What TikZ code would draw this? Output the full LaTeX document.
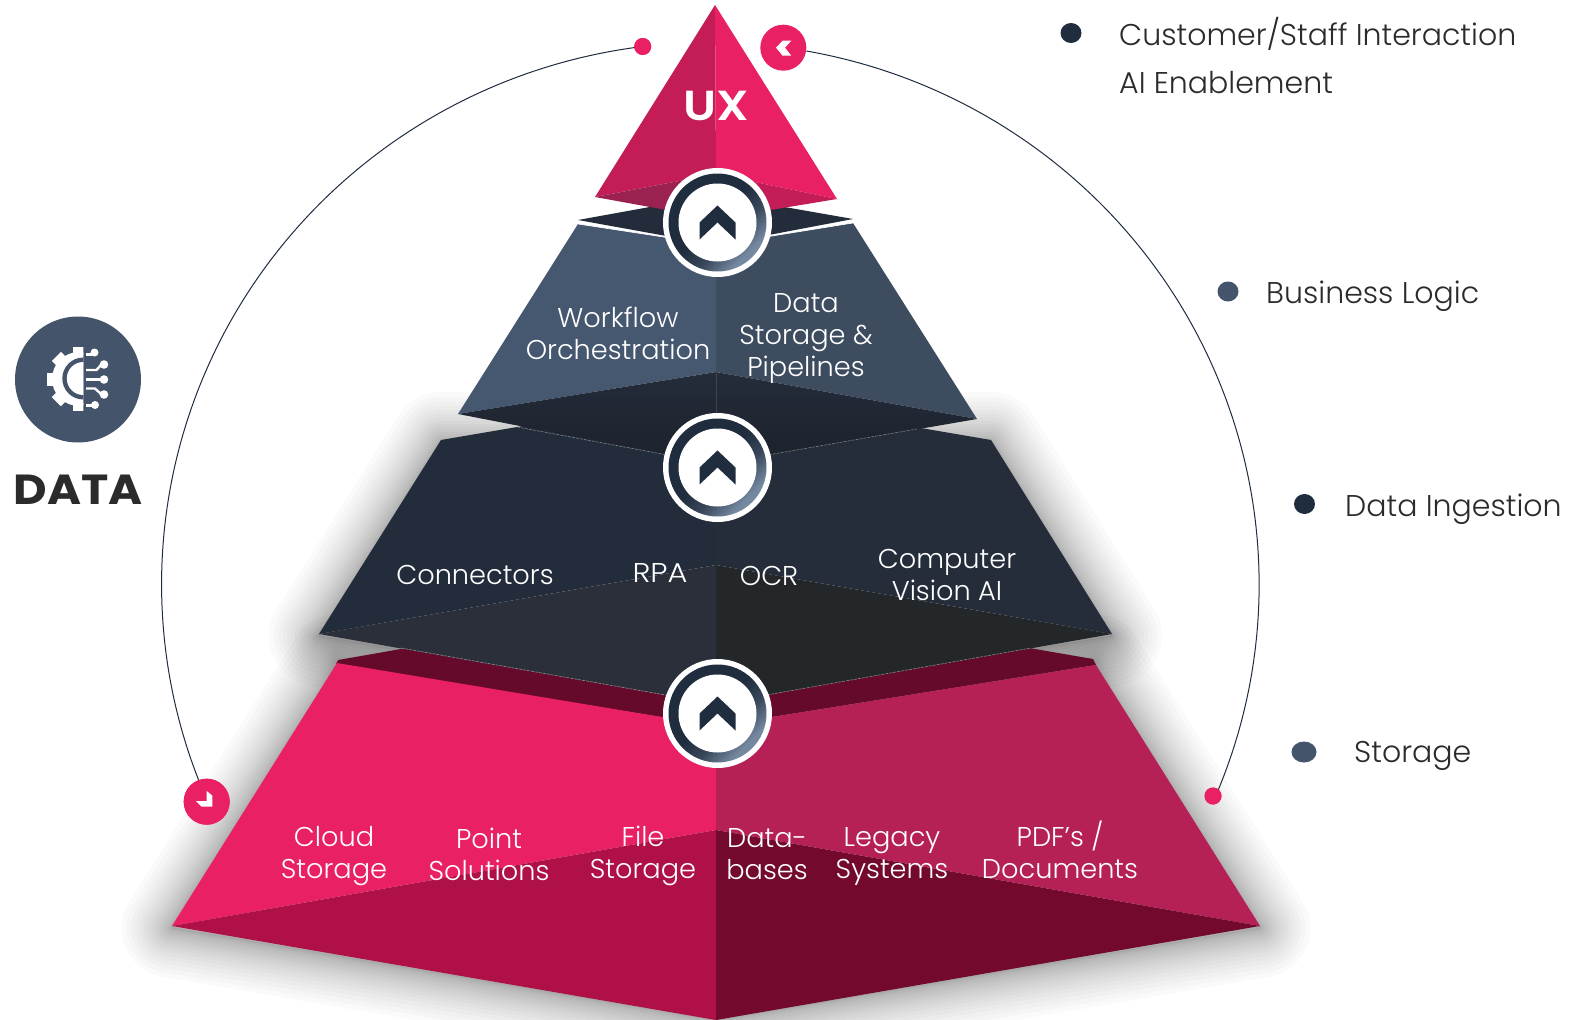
\documentclass[tikz,border=0pt]{standalone}
\usepackage{fontspec}
\setmainfont{Poppins}[UprightFont=* Light,BoldFont=* SemiBold]
\newfontfamily\heavyp{Poppins}[UprightFont=* SemiBold]
\newfontfamily\heavierp{Poppins}[UprightFont=* Bold]
\usetikzlibrary{calc}
\definecolor{rA}{HTML}{E92063}
\definecolor{rB}{HTML}{C41C56}
\definecolor{rC}{HTML}{B01048}
\definecolor{rD}{HTML}{730A2D}
\definecolor{rE}{HTML}{650A2B}
\definecolor{rF}{HTML}{B52156}
\definecolor{rG}{HTML}{9B2150}
\definecolor{sA}{HTML}{465770}
\definecolor{sB}{HTML}{3E4C60}
\definecolor{dA}{HTML}{222C3A}
\definecolor{dB}{HTML}{2A2F39}
\definecolor{dC}{HTML}{232729}
\definecolor{dD}{HTML}{252C3A}
\definecolor{dE}{HTML}{1B222C}
\definecolor{navy}{HTML}{1F2D3F}
\definecolor{ringlight}{HTML}{7488A0}
\definecolor{ringmid}{HTML}{39475A}
\definecolor{slateC}{HTML}{44546B}
\definecolor{ink}{HTML}{2B2B2B}
\pgfdeclareverticalshading{ringshade}{100bp}{color(0bp)=(ringlight);color(28bp)=(ringlight);color(40bp)=(ringmid);color(52bp)=(navy);color(100bp)=(navy)}
\tikzset{
 lab/.style={text=white,align=center,font=\fontsize{27.2}{32}\selectfont,inner sep=0pt},
 leg/.style={text=ink,anchor=west,font=\fontsize{30}{32}\selectfont,inner sep=0pt},
 arcline/.style={draw=navy,line width=1pt},
 dot/.style={circle,fill=rA,inner sep=0pt,minimum size=17pt},
 badge/.style={circle,fill=rA,inner sep=0pt,minimum size=46pt},
 trace/.style={draw=white,line width=2.4pt},
}
\newcommand{\upbtn}[2]{%
 \fill[white] (#1,#2) circle[radius=54.5];
 \shade[shading=ringshade,shading angle=45] (#1,#2) circle[radius=49];
 \fill[white] (#1,#2) circle[radius=39];
 \fill[navy] (#1,#2-17)--(#1+18,#2)--(#1+18,#2+17)--(#1,#2)--(#1-18,#2+17)--(#1-18,#2)--cycle;
}
\begin{document}
\begin{tikzpicture}[x=1pt,y=-1pt]
\useasboundingbox (0,0) rectangle (1572,1020);
\fill[white] (0,0) rectangle (1572,1020);
% shadows
\foreach \i in {1,...,20}{
 \pgfmathsetmacro\w{0.25*\i*\i}
 \draw[black,opacity=0.02,line width=\w pt,line join=round]
   (172,928)--(338,664)--(716,730)--(1094,664)--(1260,928)--(716,1020)--cycle;
 \draw[black,opacity=0.02,line width=\w pt,line join=round]
   (319,636)--(441,442)--(991,442)--(1112,636)--(716,704)--cycle;
}
% arcs and end marks
\node[dot] (dotL) at (642.7,46.5) {};
\node[badge] (badgeR) at (783.3,47.7) {};
\node[badge] (badgeL) at (206.7,801.7) {};
\node[dot] (dotR) at (1213,796) {};
\coordinate (arcR) at (806.4,51);
\draw[arcline] (dotL.center) arc[start angle=97.1,end angle=203.3,x radius=549pt,y radius=542pt];
\draw[arcline] (arcR) arc[start angle=79.9,end angle=-23,x radius=549pt,y radius=542pt];
\fill[rA] (badgeL) circle[radius=23];
\fill[rA] (dotL) circle[radius=8.5];
\fill[rA] (dotR) circle[radius=8.5];
\fill[white] ($(badgeL)+(0,-10.7)$)--++(5.7,4.7)--++(0,11)--++(-10.7,0)--++(-5.7,-5.7)--++(10.7,0)--cycle;
\fill[white] ($(badgeR)+(-7.3,0)$)--++(6.6,-7)--++(8.7,0)--++(-6.3,7)--++(6.3,8)--++(-8.7,0)--cycle;
% bottom tier
\fill[rE] (338,660)--(716,594)--(1093,659)--(1096,665)--(716,726)--(336,664)--cycle;
\fill[rA] (337,663)--(716,726)--(716,830)--(172,926)--cycle;
\fill[rF] (1096,665)--(716,726)--(716,830)--(1260,926)--cycle;
\fill[rC] (172,926)--(716,830)--(716,1020)--cycle;
\fill[rD] (1260,926)--(716,830)--(716,1020)--cycle;
% third tier
\fill[dA] (441,440)--(716,393)--(716,565)--(319,634)--cycle;
\fill[dD] (991,440)--(716,393)--(716,565)--(1112,634)--cycle;
\fill[dB] (319,634)--(716,565)--(716,704)--cycle;
\fill[dC] (1112,634)--(716,565)--(716,704)--cycle;
\draw[white,opacity=.45,line width=.6pt,dash pattern=on 3pt off 1pt] (401,648)--(716,704)--(1031,648);
% slate tier
\fill[dA] (578,220)--(716,195)--(853,219)--(716,245)--cycle;
\fill[sA] (578,224)--(716,245)--(716,372)--(458,414)--cycle;
\fill[sB] (853,223)--(716,245)--(716,372)--(977,419)--cycle;
\draw[white,line width=.6pt] (578,224)--(716,245)--(853,223);
\shade[top color=dD,bottom color=dE] (458,414)--(716,372)--(977,419)--(716,464)--cycle;
\draw[white,opacity=.4,line width=.6pt,dash pattern=on 3pt off 1pt] (517,427)--(716,464)--(917,429);
\draw[white,opacity=.12,line width=.6pt] (716,372)--(716,413);
% UX
\fill[rB] (715,5)--(595,197)--(716,174)--cycle;
\fill[rA] (715,5)--(837,199)--(716,174)--cycle;
\fill[rG] (595,197)--(716,174)--(716,219)--cycle;
\fill[rB] (837,199)--(716,174)--(716,219)--cycle;
% buttons
\upbtn{717.5}{222.5}
\upbtn{717.5}{467.5}
\upbtn{717.5}{713.5}
% icon
\node[circle,fill=slateC,minimum size=126pt,inner sep=0pt] (icon) at (78,379.5) {};
\begin{scope}
 \clip (40,340) rectangle (83.3,420);
 \fill[white] (79,379) circle[radius=27];
 \foreach \a in {90,135,180,225,270}{
  \fill[white,rotate around={\a:(79,379)}] (79+24,379-6.5) rectangle (79+32,379+6.5);
 }
 \fill[slateC] (83.3,378.5) circle[radius=21];
 \fill[white] (83.3,378.5) circle[radius=16.5];
\end{scope}
\draw[trace] (86,354.5)--(92,354.5);
\fill[white] (94.5,352.5) circle[radius=4];
\draw[trace] (86,370)--(96.5,370)--(101,365);
\fill[white] (104,364.5) circle[radius=4.3];
\draw[trace] (86,379.5)--(101,379.5);
\fill[white] (104,379.5) circle[radius=4.3];
\draw[trace] (86,388.5)--(95,388.5)--(101,394);
\fill[white] (104,394.5) circle[radius=4.3];
\draw[trace] (86,405.5)--(92,405.5);
\fill[white] (95,405) circle[radius=4];
\node[font=\heavierp\fontsize{42}{42}\selectfont,text=ink,inner sep=0pt] (data) at (78,490) {\scalebox{1.1}[1]{DATA}};
% labels
\node[lab,font=\heavyp\fontsize{42}{42}\selectfont] (ux) at (716,106) {\scalebox{1.13}[1]{UX}};
\node[lab] (wf) at (618,333.5) {Workflow\\Orchestration};
\node[lab] (ds) at (806,338) {Data\\Storage \&\\Pipelines};
\node[lab] (conn) at (475,575) {Connectors};
\node[lab] (rpa) at (660,573) {\scalebox{1.12}[1]{RPA}};
\node[lab] (ocr) at (769,576) {OCR};
\node[lab] (cv) at (947,575) {Computer\\Vision AI};
\node[lab] (cs) at (334,856) {Cloud\\Storage};
\node[lab] (ps) at (489,854) {Point\\Solutions};
\node[lab] (fs) at (643,856) {File\\Storage};
\node[lab] (db) at (767,854) {Data-\\bases};
\node[lab] (ls) at (892,856) {Legacy\\Systems};
\node[lab] (pdf) at (1060,850) {PDF’s /\\Documents};
% legend
\fill[navy] (1071,33) ellipse[x radius=10.5,y radius=10];
\fill[slateC] (1228,291.5) ellipse[x radius=10.5,y radius=10];
\fill[navy] (1304.5,504) ellipse[x radius=10.5,y radius=10];
\fill[slateC] (1304,752) ellipse[x radius=12.5,y radius=10.5];
\node[leg] (l1) at (1119,34) {Customer/Staff Interaction};
\node[leg] (l1b) at (1119,83) {AI Enablement};
\node[leg] (l2) at (1266,296) {Business Logic};
\node[leg] (l3) at (1345,509) {Data Ingestion};
\node[leg] (l4) at (1354,756) {Storage};
\end{tikzpicture}
\end{document}
